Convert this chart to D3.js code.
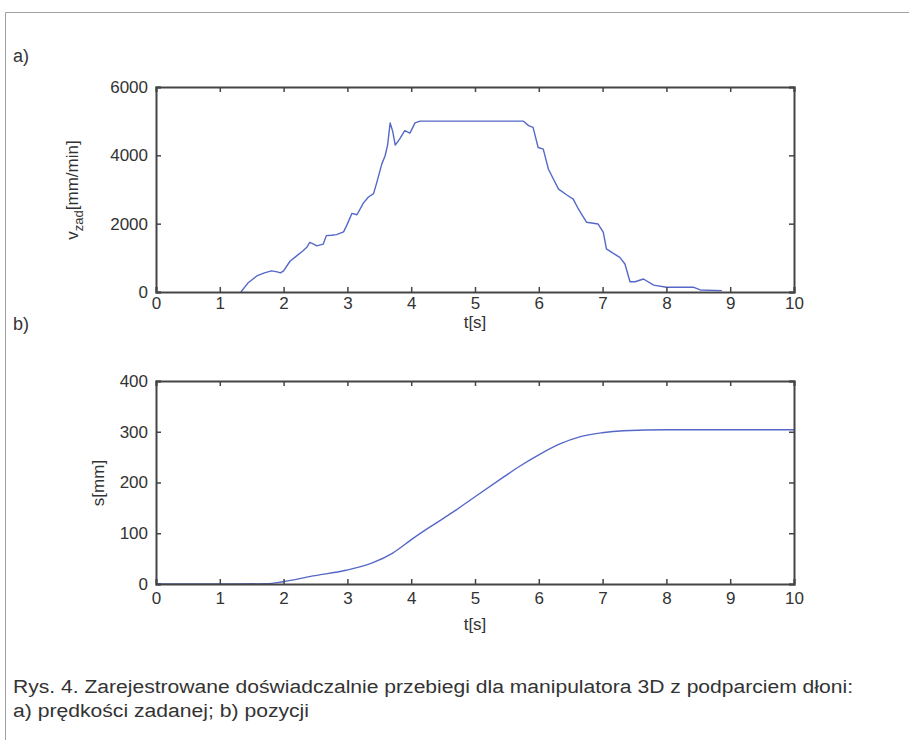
<!DOCTYPE html>
<html>
<head>
<meta charset="utf-8">
<script src="https://cdn.jsdelivr.net/npm/d3@7"></script>
<style>
  html, body { margin: 0; padding: 0; background: #fff; }
  svg { display: block; }
  text { font-family: "Liberation Sans", Arial, sans-serif; fill: #333; }
</style>
</head>
<body>
<svg id="chart" width="909" height="740"></svg>
<script>
// ---- data ----
const xTicks = [0, 1, 2, 3, 4, 5, 6, 7, 8, 9, 10];
const vTicks = [0, 2000, 4000, 6000];
const sTicks = [0, 100, 200, 300, 400];

const vTime = [1.33, 1.45, 1.58, 1.70, 1.81, 1.90, 1.95, 2.00, 2.10, 2.20, 2.30, 2.36, 2.41, 2.47, 2.52, 2.62, 2.67, 2.75, 2.83, 2.94, 2.99, 3.07, 3.15, 3.25, 3.33, 3.41, 3.46, 3.54, 3.59, 3.63, 3.67, 3.71, 3.75, 3.82, 3.90, 3.98, 4.06, 4.14, 5.76, 5.84, 5.91, 5.99, 6.07, 6.15, 6.23, 6.31, 6.44, 6.54, 6.62, 6.75, 6.93, 7.01, 7.06, 7.15, 7.27, 7.35, 7.43, 7.51, 7.64, 7.80, 8.00, 8.42, 8.53, 8.87];
const vValue = [0, 280, 470, 560, 620, 590, 560, 620, 900, 1050, 1200, 1300, 1450, 1400, 1350, 1400, 1650, 1660, 1680, 1760, 1950, 2300, 2260, 2600, 2780, 2880, 3200, 3750, 3980, 4300, 4950, 4700, 4300, 4480, 4720, 4650, 4950, 5000, 5000, 4870, 4820, 4230, 4180, 3600, 3300, 3010, 2840, 2720, 2430, 2040, 1990, 1750, 1260, 1150, 1015, 820, 300, 300, 380, 200, 140, 140, 60, 40];

const sTime = [0, 1.0, 1.73, 1.99, 2.46, 2.98, 3.40, 3.71, 4.03, 4.29, 4.66, 5.00, 5.44, 5.70, 6.02, 6.33, 6.64, 6.99, 7.33, 8.00, 10];
const sValue = [0, 0, 0.5, 4.5, 16, 27, 42, 61, 90, 112, 142, 172, 210, 232, 256, 276, 290, 298, 302, 304, 304];

const captionLines = [
  "Rys. 4. Zarejestrowane doświadczalnie przebiegi dla manipulatora 3D z podparciem dłoni:",
  "a) prędkości zadanej; b) pozycji"
];

// ---- drawing ----
const svg = d3.select("#chart");
const axisColor = "#454545";
const lineColor = "#5568c8";

// outer frame (top and left edges)
svg.append("path")
  .attr("d", "M5.5,740 L5.5,12.5 L909,12.5")
  .attr("fill", "none").attr("stroke", "#a0a0a0").attr("stroke-width", 1);

function panel(cfg) {
  const x = d3.scaleLinear().domain([0, 10]).range([cfg.left, cfg.right]);
  const y = d3.scaleLinear().domain(cfg.yDomain).range([cfg.bottom, cfg.top]);
  const g = svg.append("g");

  const pts = cfg.t.map((t, i) => [t, cfg.v[i]]);
  g.append("path")
    .datum(pts)
    .attr("fill", "none")
    .attr("stroke", lineColor)
    .attr("stroke-width", 1.4)
    .attr("stroke-linejoin", "round")
    .attr("d", d3.line().x(d => x(d[0])).y(d => y(d[1])).curve(cfg.curve));

  const tickLen = 5;
  const gb = g.append("g").attr("transform", `translate(0,${cfg.bottom})`)
    .call(d3.axisBottom(x).tickValues(xTicks).tickSize(-tickLen).tickPadding(cfg.xPad).tickFormat(d3.format("d")));
  const gt = g.append("g").attr("transform", `translate(0,${cfg.top})`)
    .call(d3.axisTop(x).tickValues(xTicks).tickSize(-tickLen).tickFormat(""));
  const gl = g.append("g").attr("transform", `translate(${cfg.left},0)`)
    .call(d3.axisLeft(y).tickValues(cfg.yTicks).tickSize(-tickLen).tickPadding(8).tickFormat(d3.format("d")));
  const gr = g.append("g").attr("transform", `translate(${cfg.right},0)`)
    .call(d3.axisRight(y).tickValues(cfg.yTicks).tickSize(-tickLen).tickFormat(""));
  [gb, gt, gl, gr].forEach(a => {
    a.select(".domain").attr("stroke", axisColor).attr("stroke-width", 2);
    a.selectAll(".tick line").attr("stroke", axisColor).attr("stroke-width", 1.5);
    a.selectAll(".tick text").attr("fill", "#2a2a2a").style("font-size", "17px")
      .style("font-family", "'Liberation Sans', Arial, sans-serif");
  });
  g.append("text")
    .attr("x", (cfg.left + cfg.right) / 2)
    .attr("y", cfg.bottom + cfg.xLabelOffset)
    .attr("text-anchor", "middle")
    .style("font-size", "17px")
    .text("t[s]");
  return { g, x, y };
}

panel({
  left: 156, right: 794, top: 87, bottom: 292,
  yDomain: [0, 6000], yTicks: vTicks, t: vTime, v: vValue,
  curve: d3.curveLinear, xPad: 5, xLabelOffset: 36
});

panel({
  left: 156, right: 794, top: 381, bottom: 584,
  yDomain: [0, 400], yTicks: sTicks, t: sTime, v: sValue,
  curve: d3.curveMonotoneX, xPad: 8, xLabelOffset: 46
});

// y labels
const yl1 = svg.append("text")
  .attr("transform", "translate(78,190) rotate(-90)")
  .attr("text-anchor", "middle")
  .style("font-size", "17px");
yl1.append("tspan").text("v");
yl1.append("tspan").attr("dy", 5).style("font-size", "13px").text("zad");
yl1.append("tspan").attr("dy", -5).text("[mm/min]");

svg.append("text")
  .attr("transform", "translate(104,483) rotate(-90)")
  .attr("text-anchor", "middle")
  .style("font-size", "17px")
  .text("s[mm]");

// panel letters
svg.append("text").attr("x", 13).attr("y", 62).style("font-size", "18px").text("a)");
svg.append("text").attr("x", 13).attr("y", 330).style("font-size", "18px").text("b)");

// caption
const capLen = [840, 296];
captionLines.forEach((line, i) => {
  svg.append("text")
    .attr("x", 13)
    .attr("y", 693 + i * 24)
    .attr("textLength", capLen[i])
    .attr("lengthAdjust", "spacingAndGlyphs")
    .style("font-size", "18px")
    .text(line);
});
</script>
</body>
</html>
